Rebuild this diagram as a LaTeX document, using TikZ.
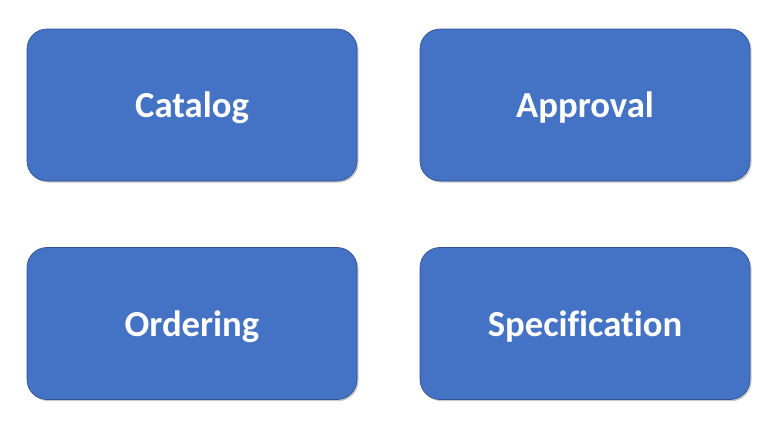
\documentclass[tikz,border=0pt]{standalone}
\usepackage{fontspec}
\setmainfont{Carlito}[Ligatures={NoCommon}]
\usepackage{xcolor}
\usetikzlibrary{positioning, shadows}

\definecolor{boxblue}{HTML}{4472C4}
\definecolor{boxline}{HTML}{2F528F}

\tikzset{
  block/.style={draw=boxline, line width=0.5pt, fill=boxblue, rounded corners=15pt,
    minimum width=247.5pt, minimum height=114pt, text=white, text depth=0pt,
    font=\bfseries\fontsize{27.5}{33}\selectfont,
    drop shadow={shadow xshift=1.2pt, shadow yshift=-1.2pt, opacity=0.35, fill=black!60}}
}

\begin{document}
\begin{tikzpicture}[x=0.75pt, y=-0.75pt]
  \useasboundingbox (0,0) rectangle (781,421);

  \node[block] (catalog) at (192,105) {Catalog};
  \node[block] (approval) at (585,105) {Approval};
  \node[block] (ordering) at (192,323.5) {Ordering};
  \node[block] (spec) at (585,323.5) {Specification};

\end{tikzpicture}
\end{document}
